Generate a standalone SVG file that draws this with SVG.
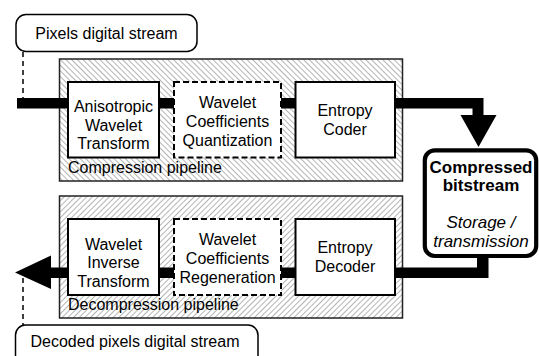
<svg xmlns="http://www.w3.org/2000/svg" width="539" height="356" viewBox="0 0 539 356">
<style>
text{font-family:"Liberation Sans",Arial,sans-serif;font-size:16px;fill:#000}
.c{text-anchor:middle}
.b{font-weight:bold;font-size:17px}
.i{font-style:italic;font-size:17px}
.cont{stroke:#222;stroke-width:1.5}
.box{fill:#fff;stroke:#000;stroke-width:2}
.dbox{fill:#fff;stroke:#000;stroke-width:2;stroke-dasharray:6 3}
.bub{fill:#fff;stroke:#000;stroke-width:1.5}
.dl{fill:none;stroke:#000;stroke-width:1.5;stroke-dasharray:5 4}
</style>
<defs>
<pattern id="hb" patternUnits="userSpaceOnUse" width="4" height="10" patternTransform="rotate(-45)">
<rect width="4" height="10" fill="#fff"/>
<line x1="0.5" y1="0" x2="0.5" y2="10" stroke="#b4b4b4" stroke-width="1"/>
</pattern>
<pattern id="hf" patternUnits="userSpaceOnUse" width="4" height="10" patternTransform="rotate(45)">
<rect width="4" height="10" fill="#fff"/>
<line x1="0.5" y1="0" x2="0.5" y2="10" stroke="#b4b4b4" stroke-width="1"/>
</pattern>
</defs>
<rect width="539" height="356" fill="#fff"/>

<g id="compression-pipeline">
<rect class="cont" x="59.5" y="59" width="343" height="122" fill="url(#hb)"/>
<text x="68" y="173">Compression pipeline</text>
</g>
<g id="decompression-pipeline">
<rect class="cont" x="59.5" y="196" width="343" height="122" fill="url(#hf)"/>
<text x="68" y="310">Decompression pipeline</text>
</g>

<g id="connectors">
<path d="M17,98 H483.5 V115 H496.5 L478.5,147 L460.5,115 H472.5 V108.5 H17 Z" fill="#000"/>
<path d="M488.5,254 V278 H51 V289 L15,272.5 L51,255.5 V267.5 H477 V254 Z" fill="#000"/>
<path class="dl" d="M23,52 V98"/>
<path class="dl" d="M23,278 V325"/>
</g>

<g id="pixels-stream">
<rect class="bub" x="16" y="14.5" width="181" height="37" rx="10"/>
<text class="c" x="106.5" y="38.5">Pixels digital stream</text>
</g>

<g id="anisotropic">
<rect class="box" x="68" y="82" width="91" height="75.5"/>
<text class="c" x="113.5" y="112">Anisotropic</text>
<text class="c" x="113.5" y="130.5">Wavelet</text>
<text class="c" x="113.5" y="149">Transform</text>
</g>
<g id="quantization">
<rect class="dbox" x="174" y="82" width="107" height="75.5"/>
<text class="c" x="227.5" y="108">Wavelet</text>
<text class="c" x="227.5" y="127">Coefficients</text>
<text class="c" x="227.5" y="145.5">Quantization</text>
</g>
<g id="entropy-coder">
<rect class="box" x="295.5" y="82" width="99.5" height="75.5"/>
<text class="c" x="345" y="115.5">Entropy</text>
<text class="c" x="345" y="134.5">Coder</text>
</g>

<g id="bitstream">
<rect x="424.8" y="150.3" width="111.4" height="105.7" rx="10" fill="#fff" stroke="#000" stroke-width="4.2"/>
<text class="c b" x="481" y="173">Compressed</text>
<text class="c b" x="481" y="191">bitstream</text>
<text class="c i" x="481" y="228">Storage /</text>
<text class="c i" x="481" y="247">transmission</text>
</g>

<g id="inverse-transform">
<rect class="box" x="68" y="219" width="91" height="76"/>
<text class="c" x="113.5" y="249.5">Wavelet</text>
<text class="c" x="113.5" y="268">Inverse</text>
<text class="c" x="113.5" y="286.5">Transform</text>
</g>
<g id="regeneration">
<rect class="dbox" x="174" y="219" width="107" height="76"/>
<text class="c" x="227.5" y="245">Wavelet</text>
<text class="c" x="227.5" y="264">Coefficients</text>
<text class="c" x="227.5" y="282.5">Regeneration</text>
</g>
<g id="entropy-decoder">
<rect class="box" x="295.5" y="219" width="99.5" height="76"/>
<text class="c" x="345" y="252.5">Entropy</text>
<text class="c" x="345" y="271.5">Decoder</text>
</g>

<g id="decoded-stream">
<rect class="bub" x="15.5" y="325" width="242.5" height="45" rx="10"/>
<text class="c" x="135" y="346.5">Decoded pixels digital stream</text>
</g>
</svg>
